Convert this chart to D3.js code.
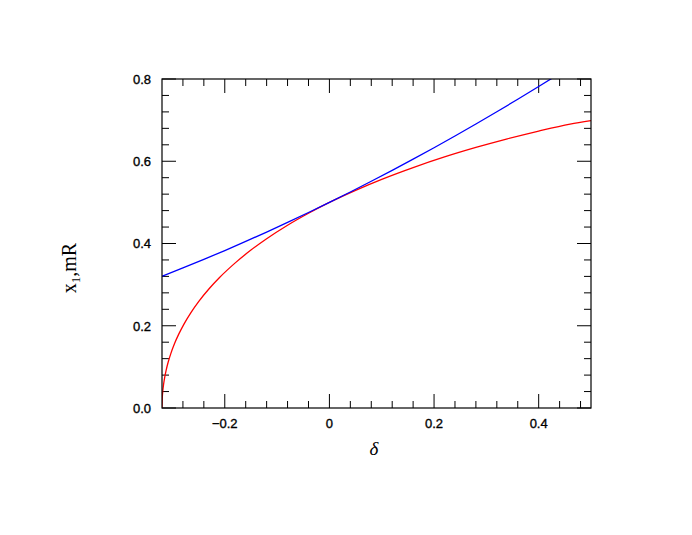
<!DOCTYPE html>
<html>
<head>
<meta charset="utf-8">
<script src="https://cdn.jsdelivr.net/npm/d3@7"></script>
<style>
  html, body { margin: 0; padding: 0; background: #fff; }
  svg { display: block; }
</style>
</head>
<body>
<svg id="chart" width="692" height="535"></svg>
<script>
// ---- data ----
const xTicks = [-0.2, 0, 0.2, 0.4];
const xTickLabels = ["\u22120.2", "0", "0.2", "0.4"];
const yTicks = [0, 0.2, 0.4, 0.6, 0.8];
const yTickLabels = ["0.0", "0.2", "0.4", "0.6", "0.8"];

const blueDelta = [-0.32, -0.28, -0.24, -0.20, -0.16, -0.12, -0.08, -0.04, 0.00, 0.04, 0.08, 0.12, 0.16, 0.20, 0.24, 0.28, 0.32, 0.36, 0.40, 0.44];
const blueX1    = [0.3203, 0.3405, 0.3614, 0.3829, 0.4051, 0.4278, 0.4513, 0.4753, 0.5000, 0.5253, 0.5513, 0.5779, 0.6051, 0.6329, 0.6614, 0.6905, 0.7203, 0.7507, 0.7817, 0.8133];

const redDelta = [-0.320, -0.3195, -0.3185, -0.317, -0.315, -0.312, -0.308, -0.303, -0.296, -0.288, -0.278, -0.265, -0.250, -0.230, -0.210, -0.180, -0.150, -0.120, -0.080, -0.040, 0.000, 0.050, 0.100, 0.160, 0.220, 0.280, 0.340, 0.400, 0.460, 0.500];
const redX1    = [0.0000, 0.0235, 0.0406, 0.0571, 0.0734, 0.0923, 0.1124, 0.1329, 0.1567, 0.1796, 0.2041, 0.2314, 0.2587, 0.2899, 0.3173, 0.3529, 0.3840, 0.4116, 0.4444, 0.4735, 0.5000, 0.5294, 0.5560, 0.5846, 0.6104, 0.6335, 0.6545, 0.6735, 0.6905, 0.6990];

// ---- layout ----
const svg = d3.select("#chart");
const L = 162, R = 591, T = 79, B = 408;

const x = d3.scaleLinear().domain([-0.32, 0.5]).range([L, R]);
const y = d3.scaleLinear().domain([0, 0.8]).range([B, T]);

const majorLen = 14, minorLen = 7;
const xMinor = d3.range(-0.28, 0.5001, 0.04).map(v => +v.toFixed(2)).filter(v => !xTicks.some(t => Math.abs(t - v) < 1e-6));
const yMinor = d3.range(0.04, 0.8, 0.04).map(v => +v.toFixed(2)).filter(v => !yTicks.some(t => Math.abs(t - v) < 1e-6));

const tickG = svg.append("g").attr("stroke", "#000").attr("stroke-width", 1);
function vtick(v, len) {
  tickG.append("line").attr("x1", x(v)).attr("x2", x(v)).attr("y1", B).attr("y2", B - len);
  tickG.append("line").attr("x1", x(v)).attr("x2", x(v)).attr("y1", T).attr("y2", T + len);
}
function htick(v, len) {
  tickG.append("line").attr("y1", y(v)).attr("y2", y(v)).attr("x1", L).attr("x2", L + len);
  tickG.append("line").attr("y1", y(v)).attr("y2", y(v)).attr("x1", R).attr("x2", R - len);
}
xTicks.forEach(v => vtick(v, majorLen));
xMinor.forEach(v => vtick(v, minorLen));
yTicks.forEach(v => htick(v, majorLen));
yMinor.forEach(v => htick(v, minorLen));

// clip
svg.append("clipPath").attr("id", "clip").append("rect")
  .attr("x", L).attr("y", T).attr("width", R - L).attr("height", B - T);

const line = d3.line().x(d => x(d[0])).y(d => y(d[1])).curve(d3.curveMonotoneX);

svg.append("path")
  .datum(redDelta.map((d, i) => [d, redX1[i]]))
  .attr("d", line).attr("fill", "none").attr("stroke", "#ff0000").attr("stroke-width", 1.3)
  .attr("clip-path", "url(#clip)");
svg.append("path")
  .datum(blueDelta.map((d, i) => [d, blueX1[i]]))
  .attr("d", line).attr("fill", "none").attr("stroke", "#0000ff").attr("stroke-width", 1.3)
  .attr("clip-path", "url(#clip)");

// frame
svg.append("rect").attr("x", L).attr("y", T).attr("width", R - L).attr("height", B - T)
  .attr("fill", "none").attr("stroke", "#000").attr("stroke-width", 1.2);

// tick labels
const fontTick = "'Liberation Sans', Arial, sans-serif";
svg.append("g").selectAll("text").data(xTicks).join("text")
  .attr("x", d => x(d)).attr("y", 428)
  .attr("text-anchor", "middle")
  .attr("font-family", fontTick).attr("font-size", 13)
  .attr("stroke", "#000").attr("stroke-width", 0.35)
  .text((d, i) => xTickLabels[i]);
svg.append("g").selectAll("text").data(yTicks).join("text")
  .attr("x", 151).attr("y", d => y(d) + 4.8)
  .attr("text-anchor", "end")
  .attr("font-family", fontTick).attr("font-size", 13)
  .attr("stroke", "#000").attr("stroke-width", 0.35)
  .text((d, i) => yTickLabels[i]);

// axis titles
svg.append("text")
  .attr("x", 374).attr("y", 455)
  .attr("text-anchor", "middle")
  .attr("font-family", "'Liberation Serif', 'Times New Roman', serif")
  .attr("font-style", "italic").attr("font-size", 19)
  .text("\u03b4");

const yl = svg.append("text")
  .attr("transform", "translate(76,268) rotate(-90)")
  .attr("text-anchor", "middle")
  .attr("font-family", "'Liberation Serif', 'Times New Roman', serif")
  .attr("font-size", 20);
yl.append("tspan").text("x");
yl.append("tspan").attr("font-size", 13).attr("dy", 4).text("1");
yl.append("tspan").attr("dy", -4).text(",mR");
</script>
</body>
</html>
